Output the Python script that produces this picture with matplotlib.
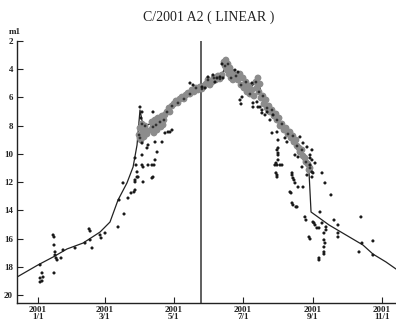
import matplotlib
matplotlib.use("Agg")
import matplotlib.pyplot as plt

# days since 2001-01-01, total magnitude
band_days = [89.3, 90.1, 91.0, 91.9, 92.8, 93.7, 94.6, 95.4, 96.3, 90.1,
             99.9, 100.7, 101.6, 102.5, 103.4, 104.3, 105.2, 106.0, 107.8, 108.7, 109.6, 111.3, 112.2, 110.5,
             114.0, 115.8, 116.6, 118.4, 120.2, 122.0, 123.7, 125.5, 127.3, 129.0, 130.8, 132.6, 134.3, 136.1,
             137.9, 139.6, 141.4, 143.2, 144.9, 146.7, 148.5, 150.2, 152.0, 153.8, 155.5, 157.3, 159.1, 160.8, 162.6,
             164.4, 165.3, 166.1, 167.0, 167.9, 168.8, 169.7, 170.6, 171.4, 172.3,
             175.0, 176.7, 178.5, 179.4, 181.2, 182.0, 183.8, 184.7, 186.5, 187.3, 189.1, 190.9, 192.6, 193.5,
             194.4, 195.3, 196.2, 197.1, 198.8, 199.7, 201.5, 202.4, 204.1, 205.0, 206.8, 208.6, 210.3, 211.2,
             213.0, 213.9, 215.6, 217.4, 219.2, 220.9, 222.7, 223.6, 225.3, 226.2, 228.0, 228.9, 230.6, 231.5,
             233.3, 234.2, 235.9, 236.8, 238.6, 239.5, 240.4]
band_mags = [8.66, 8.17, 9.02, 7.88, 8.45, 8.80, 8.02, 8.31, 8.59, 8.87,
             8.31, 7.74, 8.09, 8.52, 7.60, 7.95, 8.31, 7.46, 7.74, 8.09, 7.32, 7.60, 7.24, 7.95,
             7.03, 6.75, 7.03, 6.61, 6.46, 6.25, 6.39, 6.11, 5.97, 6.11, 5.83, 5.69, 5.76, 5.47,
             5.61, 5.33, 5.47, 5.26, 5.40, 5.19, 5.05, 4.76, 5.12, 4.91, 4.62, 4.76, 4.48, 4.69, 4.41,
             3.49, 3.77, 3.35, 4.06, 3.63, 4.34, 3.91, 4.62, 4.20, 4.76,
             4.48, 4.76, 4.34, 5.12, 4.62, 5.33, 4.91, 5.61, 5.19, 5.76, 5.47, 5.90, 4.91, 5.33,
             4.62, 5.61, 5.05, 6.04, 5.90, 6.46, 6.18, 6.75, 6.61, 7.03, 6.89, 7.32, 7.17, 7.60,
             7.46, 8.02, 7.88, 8.31, 8.17, 8.59, 8.45, 8.87, 8.73, 9.16, 9.02, 9.44, 9.58, 9.87,
             9.72, 10.15, 10.29, 10.58, 10.72, 11.14, 11.00]

obs_days = [1.8, 1.8, 1.8, 3.5, 4.4, 3.5, 13.3, 14.1, 14.1, 15.0, 15.0, 15.9, 16.8, 14.1, 20.3, 22.1,
            32.7, 41.5, 45.1, 46.0, 46.0, 47.7, 54.8, 55.7, 59.2, 70.7, 71.6, 75.1, 76.0, 79.5, 82.2,
            84.8, 85.7, 85.7, 87.5, 86.6, 87.5, 91.9, 92.8, 100.7, 101.6, 102.5,
            112.2, 116.6, 109.6, 103.4, 97.2, 96.3, 105.2, 91.9, 103.4, 85.7, 97.2, 92.8, 100.7, 88.4, 85.7,
            90.1, 91.9, 91.0, 101.6, 118.4, 114.9, 91.9, 134.3, 137.0,
            150.2, 154.6, 158.2, 160.8, 163.5, 144.9, 147.6, 156.4, 162.6, 174.1, 176.7,
            178.5, 180.3, 179.4, 189.1, 190.0, 190.0, 193.5, 194.4, 196.2, 197.9, 197.9, 200.6, 202.4,
            205.0, 207.7, 206.8, 211.2, 212.1, 212.1, 212.1, 211.2, 212.1, 212.1, 209.4, 211.2, 213.9,
            210.3, 211.2, 211.2, 210.3, 218.3, 220.0, 215.6, 224.5, 224.5, 225.3, 226.2, 227.1, 229.8,
            234.2, 222.7, 223.6, 224.5, 225.3, 228.0, 228.9, 227.1, 229.8, 233.3, 237.7, 240.4, 242.1,
            240.4, 242.1, 242.1, 243.0, 244.8, 242.1, 237.7, 231.5, 234.2, 240.4, 251.0, 253.6, 258.9,
            235.9, 236.8, 243.0, 243.9, 244.8, 246.5, 248.3, 249.2, 251.0, 254.5, 254.5, 252.7, 261.6,
            265.1, 265.1, 265.1, 239.5, 240.4, 252.7, 253.6, 252.7, 252.7, 252.7, 248.3, 248.3,
            285.4, 286.3, 283.7, 296.0, 296.0]
obs_mags = [17.87, 18.80, 19.08, 19.01, 18.73, 18.44, 15.75, 15.89, 16.46, 16.95, 17.17, 17.38, 17.52, 18.44, 17.38, 16.81,
            16.67, 16.32, 15.32, 15.47, 16.10, 16.67, 15.75, 15.96, 15.61, 15.18, 13.27, 12.06, 14.26, 13.13, 12.77,
            12.70, 12.56, 11.85, 11.64, 10.79, 11.28, 10.79, 11.99, 10.79, 11.64, 10.79,
            8.52, 8.45, 9.16, 9.16, 9.37, 9.58, 9.87, 10.08, 10.43, 10.29, 10.79, 10.93, 11.71, 11.64, 11.99,
            6.68, 7.03, 7.46, 7.03, 8.31, 8.45, 9.23, 4.98, 5.12,
            4.55, 4.41, 4.62, 4.55, 4.62, 5.26, 5.33, 4.91, 3.63, 4.06, 4.20,
            6.18, 5.97, 6.46, 4.98, 6.39, 6.68, 6.32, 6.68, 6.68, 6.89, 7.10, 7.24, 7.03,
            7.60, 7.24, 8.52, 8.45, 9.02, 9.58, 9.94, 9.72, 10.08, 10.43, 10.79, 10.79, 10.79,
            11.35, 11.50, 11.64, 10.65, 8.87, 9.16, 10.79, 11.35, 11.50, 11.71, 11.85, 12.06, 12.35,
            12.35, 12.70, 12.77, 13.48, 13.62, 13.76, 13.76, 10.08, 10.22, 10.93, 11.50, 10.08, 10.43,
            10.79, 11.28, 11.64, 11.35, 10.65, 9.72, 9.51, 8.80, 9.23, 10.29, 11.35, 12.06, 12.91,
            14.47, 14.69, 14.83, 14.90, 15.04, 15.25, 15.25, 14.12, 14.90, 15.18, 15.39, 15.61, 14.69,
            15.04, 15.61, 15.89, 15.89, 16.03, 16.10, 16.32, 16.60, 16.95, 17.10, 17.38, 17.52,
            14.47, 16.32, 16.95, 16.17, 17.17]

curve_days = [-18.6, 0, 13.3, 25.6, 39.8, 54.8, 63.6, 70.7, 78.6, 84.0, 87.5, 90.1, 92.8, 99.0, 106.0,
              114.9, 121.1, 127.3, 134.3, 144.0, 152.0, 160.8, 167.9, 173.2, 181.2, 187.3, 194.4, 198.8,
              206.8, 215.6, 224.5, 231.5, 236.8, 239.5, 241.3, 257.2, 272.2, 287.2, 296.0, 307.5, 316.4]
curve_mags = [18.73, 17.87, 17.31, 16.74, 16.32, 15.54, 14.83, 13.27, 12.06, 10.93, 9.37, 6.89, 8.02, 7.88, 7.46,
              6.89, 6.32, 5.97, 5.61, 5.40, 5.05, 4.62, 3.49, 4.20, 4.62, 5.33, 4.76, 6.18,
              7.24, 8.17, 8.80, 9.58, 10.29, 11.28, 14.12, 15.04, 15.75, 16.46, 17.10, 17.66, 18.16]

perihelion_day = 144.0
tick_days = [0, 59, 120, 181, 243, 304]
tick_labels = ["2001\n1/1", "2001\n3/1", "2001\n5/1", "2001\n7/1", "2001\n9/1", "2001\n11/1"]
mag_ticks = [2, 4, 6, 8, 10, 12, 14, 16, 18, 20]

fig = plt.figure(figsize=(3.96, 3.28), dpi=100)
ax = fig.add_axes([17/396, 25/328, 379/396, 262/328])

ax.plot(curve_days, curve_mags, color="#222222", lw=0.9, zorder=2)
ax.scatter(band_days, band_mags, s=24, color="#8c8c8c", edgecolors="none", zorder=3)
ax.scatter(band_days[::3], band_mags[::3], s=4, color="#333333", edgecolors="none", zorder=3)
ax.scatter(obs_days, obs_mags, s=5, color="#1a1a1a", edgecolors="none", zorder=4)
ax.axvline(perihelion_day, color="#444444", lw=1.2, zorder=1)

ax.set_xlim(-18.6, 316.4)
ax.set_ylim(20.57, 2)
ax.set_xticks(tick_days)
ax.set_xticklabels(tick_labels, fontfamily="Liberation Serif", fontweight="bold", fontsize=6.5, linespacing=0.95)
ax.set_yticks(mag_ticks)
ax.set_yticklabels([str(m) for m in mag_ticks], fontfamily="Liberation Serif", fontweight="bold", fontsize=6.5)
ax.tick_params(axis="both", direction="in", length=4, width=0.8, pad=2, colors="#222222")
ax.tick_params(axis="y", pad=3)
for side in ("top", "right"):
    ax.spines[side].set_visible(False)
for side in ("left", "bottom"):
    ax.spines[side].set_linewidth(1.0)
    ax.spines[side].set_color("#222222")

fig.text(15/396, 1 - 32/328, "m1", ha="center", va="center", fontfamily="Liberation Serif",
         fontweight="bold", fontsize=6.5, color="#222222")
fig.text(209/396, 1 - 17/328, "C/2001 A2 ( LINEAR )", ha="center", va="center",
         fontfamily="Liberation Serif", fontsize=10, color="#222222")

fig.savefig("out.png", dpi=100)
